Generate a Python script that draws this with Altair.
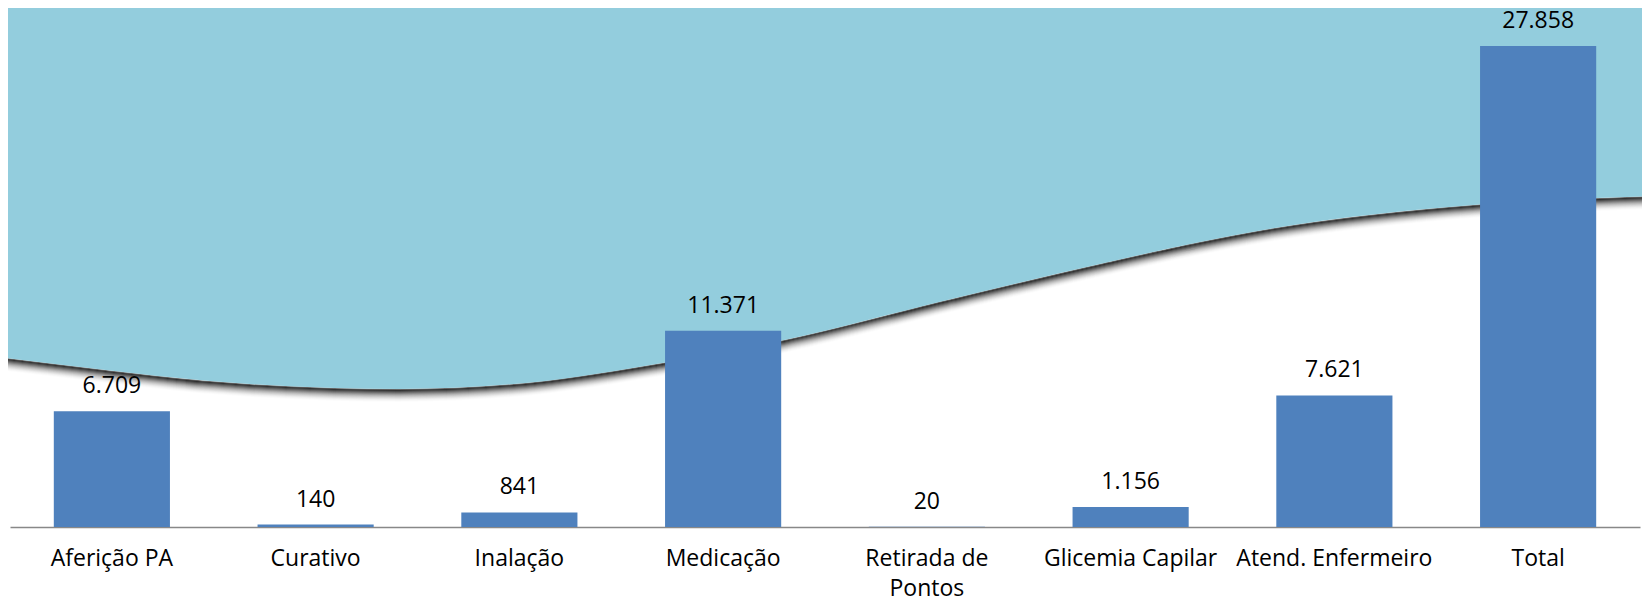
import altair as alt
import pandas as pd

# Bar data
categories = ["Aferição PA", "Curativo", "Inalação", "Medicação", "Retirada de Pontos",
              "Glicemia Capilar", "Atend. Enfermeiro", "Total"]
values = [6709, 140, 841, 11371, 20, 1156, 7621, 27858]

# Decorative wave (x in category-slot units, y in value units)
wave_u = [-0.10, 0.47, 0.98, 1.59, 1.91, 2.53, 3.23, 3.80, 4.60, 5.37, 5.84, 6.15, 7.24, 8.10]
wave_v = [9904, 9093, 8456, 8051, 7993, 8340, 9557, 10831, 13148, 15291, 16507, 17202, 18708, 19172]

FONT = "Open Sans"
FS = 23

bars_df = pd.DataFrame({
    "cat": categories,
    "val": values,
    "lbl": [f"{v:,}".replace(",", ".") for v in values],
})
wave_df = pd.DataFrame({"u": wave_u, "v": wave_v, "top": [31000] * len(wave_u)})

yscale = alt.Scale(domain=[0, 30000], nice=False, zero=True)
wx = alt.X("u:Q", scale=alt.Scale(domain=[0, 8], nice=False, zero=False), axis=None)

shadow_ops = [0.6, 0.5, 0.4, 0.32, 0.25, 0.19, 0.14, 0.10, 0.07, 0.045, 0.025, 0.012]
shadows = [
    alt.Chart(wave_df).mark_line(interpolate="monotone", color="#000000", strokeWidth=2,
                                 opacity=o, yOffset=i + 1, clip=False).encode(
        x=wx, y=alt.Y("v:Q", scale=yscale, axis=None))
    for i, o in enumerate(shadow_ops)
]

wave = alt.Chart(wave_df).mark_area(interpolate="monotone", color="#93CDDD", opacity=1,
                                    clip=False).encode(
    x=wx,
    y=alt.Y("v:Q", scale=yscale, axis=None),
    y2="top:Q",
)

xband = alt.X("cat:N", sort=categories,
              scale=alt.Scale(paddingInner=0.43, paddingOuter=0.215),
              axis=alt.Axis(title=None, ticks=False, tickSize=0, labelAngle=0,
                            labelFont=FONT, labelFontSize=FS, labelColor="#000000",
                            labelBaseline="alphabetic", labelPadding=38, labelLineHeight=30,
                            labelLimit=0,
                            labelExpr="datum.label == 'Retirada de Pontos' ? ['Retirada de', 'Pontos'] : datum.label",
                            domainColor="#888888", domainWidth=1.5, grid=False,
                            labelOverlap=False))

bars = alt.Chart(bars_df).mark_bar(color="#4F81BD").encode(
    x=xband,
    y=alt.Y("val:Q", scale=yscale, axis=None),
)

texts = alt.Chart(bars_df).mark_text(font=FONT, fontSize=FS, color="#000000",
                                     baseline="alphabetic", dy=-18).encode(
    x=alt.X("cat:N", sort=categories),
    y=alt.Y("val:Q", scale=yscale, axis=None),
    text="lbl:N",
)

inner = alt.layer(bars, texts)

chart = alt.layer(*shadows, wave, inner).resolve_scale(
    x="independent"
).properties(
    width=1630,
    height=518,
    autosize=alt.AutoSizeParams(type="none"),
    padding={"left": 2, "top": 1, "right": 2, "bottom": 75},
    background="#FFFFFF",
).configure_view(stroke=None)

chart.save("out.html", embed_options={"renderer": "svg", "actions": False})
